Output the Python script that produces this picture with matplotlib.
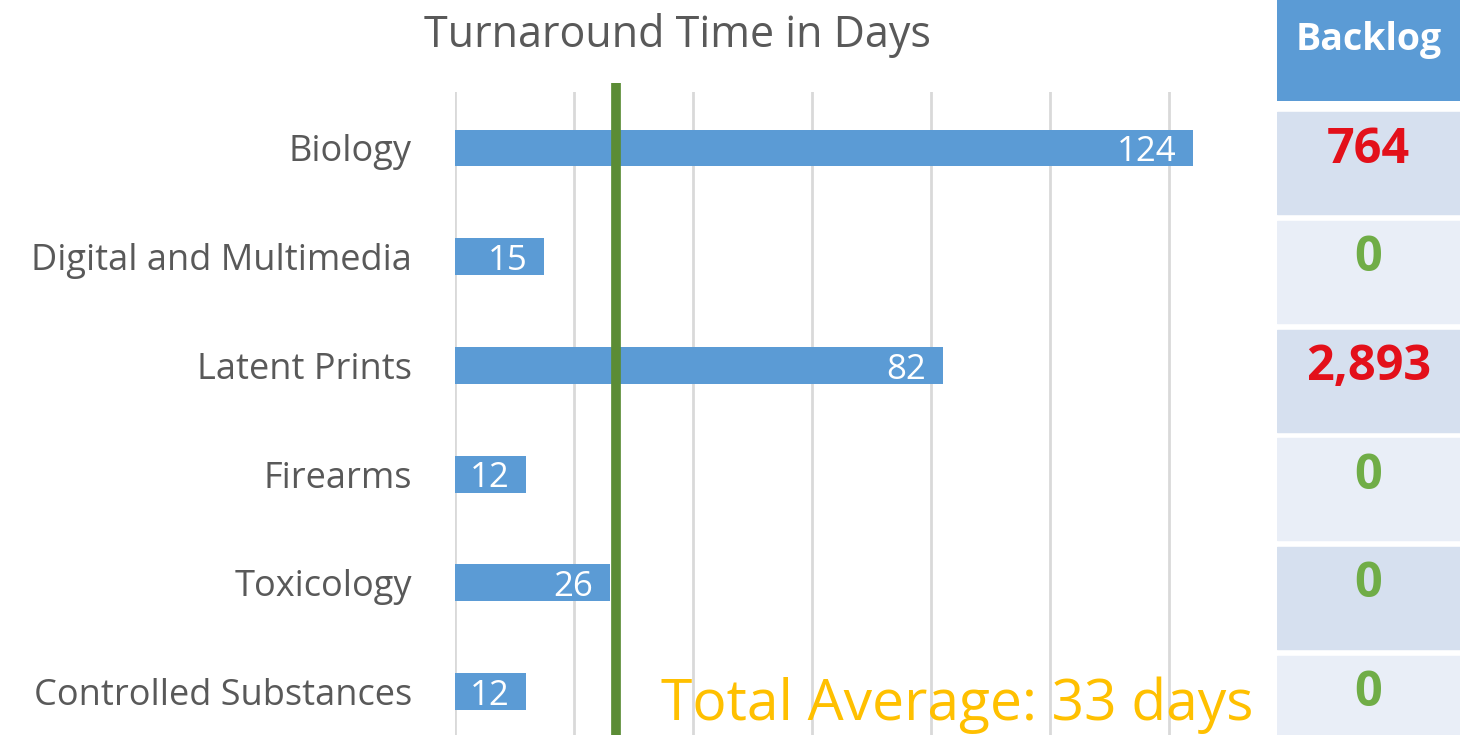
import matplotlib.pyplot as plt
from matplotlib.patches import Rectangle

# data
categories = ['Biology', 'Digital and Multimedia', 'Latent Prints',
              'Firearms', 'Toxicology', 'Controlled Substances']
turnaround_days = [124, 15, 82, 12, 26, 12]
backlog = [764, 0, 2893, 0, 0, 0]
avg_line_days = 27  # where the green line sits
avg_label = 'Total Average: 33 days'

W, H = 1466, 735
fig = plt.figure(figsize=(W / 100, H / 100), dpi=100)
plt.rcParams['font.family'] = ['Open Sans', 'DejaVu Sans']

gray = '#595959'
bar_blue = '#5B9BD5'

# main bar chart
ax = fig.add_axes([455 / W, 0, (1270 - 455) / W, (H - 92) / H])
y = range(len(categories))
ax.barh(y, turnaround_days, height=0.34, color=bar_blue, zorder=2)
ax.set_xlim(0, 137)
ax.set_ylim(5.4, -0.515)
ax.set_xticks(range(0, 121, 20))
ax.tick_params(axis='x', length=0, labelbottom=False)
ax.set_yticks(list(y))
ax.set_yticklabels(categories, fontsize=26, color=gray)
ax.tick_params(axis='y', length=0, pad=31)
ax.grid(axis='x', color='#D9D9D9', linewidth=2, zorder=0)
for s in ax.spines.values():
    s.set_visible(False)

for i, v in enumerate(turnaround_days):
    ax.text(v - 2.8, i + 0.04, str(v), ha='right', va='center',
            color='white', fontsize=25, zorder=3)

ax.axvline(avg_line_days, color='#5B8C35', linewidth=7, zorder=4,
           ymin=0, ymax=1.014, clip_on=False, solid_capstyle='butt')

ax.text(34.6, 5.265, avg_label, ha='left', va='baseline', color='#FFC000',
        fontsize=41, zorder=5)

fig.text(677 / W, 1 - 36 / H, 'Turnaround Time in Days', ha='center',
         va='center', color=gray, fontsize=31)

# backlog table
hdr = fig.add_axes([1277 / W, 1 - 101 / H, (1460 - 1277) / W, 101 / H])
hdr.set_facecolor(bar_blue)
hdr.set_xticks([])
hdr.set_yticks([])
for s in hdr.spines.values():
    s.set_visible(False)
hdr.text(0.5, 0.6, 'Backlog', ha='center', va='center', color='white',
         fontsize=27, fontweight='bold')

tab = fig.add_axes([1277 / W, 0, (1460 - 1277) / W, (H - 92) / H], sharey=ax)
tab.set_xlim(0, 1)
tab.axis('off')
for i, b in enumerate(backlog):
    fill = '#D6E0EF' if i % 2 == 0 else '#E9EEF7'
    tab.add_patch(Rectangle((0, i - 0.33), 1, 0.94, color=fill, zorder=0))
    col = '#E3101A' if b > 0 else '#70AD47'
    tab.text(0.5, i + 0.02, f'{b:,}', ha='center', va='center', color=col,
             fontsize=35, fontweight='bold')

fig.savefig('out.png', dpi=100, facecolor='white')
